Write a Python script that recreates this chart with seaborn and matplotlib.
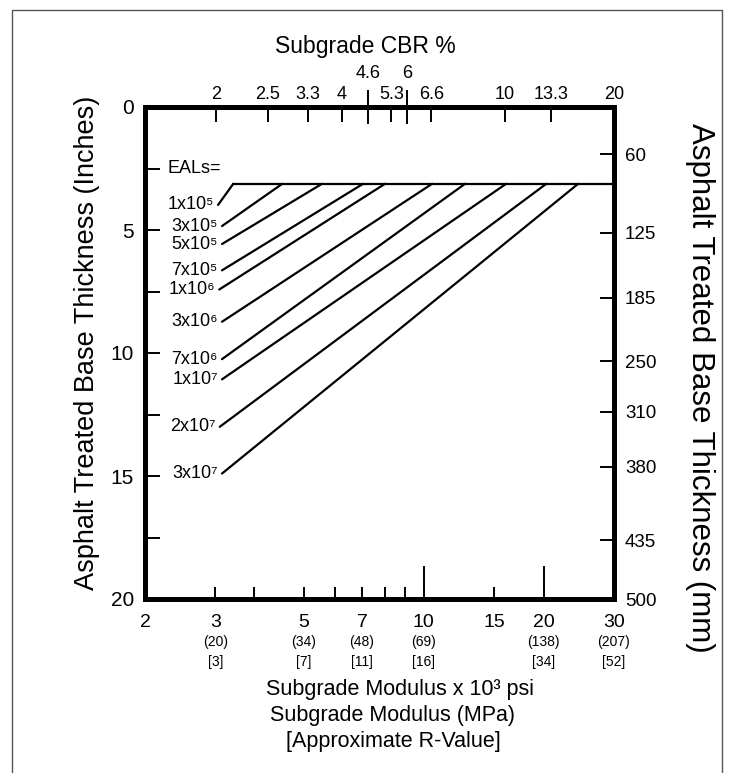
import numpy as np
import pandas as pd
import matplotlib
matplotlib.use("Agg")
import matplotlib.pyplot as plt
import seaborn as sns
from matplotlib.patches import Rectangle
from matplotlib.ticker import NullLocator, FixedLocator

# ---------------- data ----------------
eal_labels = ["1x10⁵", "3x10⁵", "5x10⁵", "7x10⁵", "1x10⁶",
              "3x10⁶", "7x10⁶", "1x10⁷", "2x10⁷", "3x10⁷"]
start_modulus = [3.05, 3.12, 3.12, 3.12, 3.07, 3.12, 3.12, 3.12, 3.08, 3.12]
start_thickness = [3.98, 4.84, 5.57, 6.64, 7.42, 8.73, 10.25, 11.07, 13.0, 14.9]
end_modulus = [3.33, 4.42, 5.56, 7.05, 8.0, 10.5, 12.7, 16.1, 20.3, 24.4]
cap_thickness = 3.12
cap_modulus = [3.33, 30.0]

# bottom axis (modulus x 10^3 psi)
mod_tick_pos = [3, 3.75, 5, 6, 7, 8, 9, 10, 15, 20]
mod_long_ticks = [10, 20]
mod_label_pos = [2, 3, 5, 7, 10, 15, 20, 30]
mod_labels = ["2", "3", "5", "7", "10", "15", "20", "30"]
mpa_pos = [3, 5, 7, 10, 20, 30]
mpa_labels = ["(20)", "(34)", "(48)", "(69)", "(138)", "(207)"]
rval_labels = ["[3]", "[7]", "[11]", "[16]", "[34]", "[52]"]

# top axis (CBR %)
cbr_pos = [3.01, 4.07, 5.13, 6.24, 8.29, 10.45, 16.0, 20.8, 30.0]
cbr_labels = ["2", "2.5", "3.3", "4", "5.3", "6.6", "10", "13.3", "20"]
cbr_raised_pos = [7.26, 9.09]
cbr_raised_labels = ["4.6", "6"]

# left axis (inches)
in_ticks = [0, 2.5, 5, 7.5, 10, 12.5, 15, 17.5, 20]
in_labels = ["0", "", "5", "", "10", "", "15", "", "20"]

# right axis (mm)
mm_pos = [1.93, 5.12, 7.75, 10.33, 12.38, 14.63, 17.62, 20.0]
mm_labels = ["60", "125", "185", "250", "310", "380", "435", "500"]

# ---------------- build long-form table ----------------
rows = []
for lab, x0, y0, x1 in zip(eal_labels, start_modulus, start_thickness, end_modulus):
    rows.append({"curve": lab, "order": 0, "modulus": x0, "thickness": y0})
    rows.append({"curve": lab, "order": 1, "modulus": x1, "thickness": cap_thickness})
for i, xm in enumerate(cap_modulus):
    rows.append({"curve": "cap", "order": i, "modulus": xm, "thickness": cap_thickness})
df = pd.DataFrame(rows)

# ---------------- style ----------------
sns.set_theme(style="white")
plt.rcParams["font.family"] = ["Liberation Sans", "DejaVu Sans"]
plt.rcParams.update({
    "text.color": "black", "axes.labelcolor": "black",
    "xtick.color": "black", "ytick.color": "black",
    "axes.edgecolor": "black",
})

fig = plt.figure(figsize=(7.32, 7.73), dpi=100)
ax = fig.add_axes([145 / 732, 1 - 599 / 773, (614 - 145) / 732, (599 - 107) / 773])

sns.lineplot(data=df, x="modulus", y="thickness", units="curve", estimator=None,
             sort=False, color="black", linewidth=1.6, ax=ax, legend=False)

ax.set_xscale("log")
ax.set_xlim(2, 30)
ax.set_ylim(20, 0)
ax.set_xlabel("")
ax.set_ylabel("")

for s in ax.spines.values():
    s.set_linewidth(3.6)
    s.set_color("black")
    s.set_visible(True)

# left axis
ax.set_yticks(in_ticks)
ax.set_yticklabels(in_labels)
ax.yaxis.set_minor_locator(NullLocator())
ax.tick_params(axis="y", which="major", direction="in", length=11, width=1.4,
               labelsize=15, pad=8, left=True, right=False)

# bottom short ticks
ax.xaxis.set_major_locator(FixedLocator(mod_tick_pos))
ax.xaxis.set_minor_locator(NullLocator())
ax.set_xticklabels([""] * len(mod_tick_pos))
ax.tick_params(axis="x", which="major", direction="in", length=9, width=1.4,
               bottom=True, top=False)


def hide_spines(a):
    for s in a.spines.values():
        s.set_visible(False)


# bottom long ticks
sec_long = ax.secondary_xaxis("bottom")
sec_long.set_xticks(mod_long_ticks)
sec_long.set_xticklabels(["", ""])
sec_long.xaxis.set_minor_locator(NullLocator())
sec_long.tick_params(direction="in", length=24, width=1.4)
hide_spines(sec_long)

# bottom label rows
sec_b1 = ax.secondary_xaxis("bottom")
sec_b1.set_xticks(mod_label_pos)
sec_b1.set_xticklabels(mod_labels)
sec_b1.xaxis.set_minor_locator(NullLocator())
sec_b1.tick_params(length=0, labelsize=14, pad=11)
hide_spines(sec_b1)

sec_b2 = ax.secondary_xaxis("bottom")
sec_b2.set_xticks(mpa_pos)
sec_b2.set_xticklabels(mpa_labels)
sec_b2.xaxis.set_minor_locator(NullLocator())
sec_b2.tick_params(length=0, labelsize=10, pad=26)
hide_spines(sec_b2)

sec_b3 = ax.secondary_xaxis("bottom")
sec_b3.set_xticks(mpa_pos)
sec_b3.set_xticklabels(rval_labels)
sec_b3.xaxis.set_minor_locator(NullLocator())
sec_b3.tick_params(length=0, labelsize=10, pad=40)
hide_spines(sec_b3)

# top CBR axis
sec_t = ax.secondary_xaxis("top")
sec_t.set_xticks(cbr_pos)
sec_t.set_xticklabels(cbr_labels)
sec_t.xaxis.set_minor_locator(NullLocator())
sec_t.tick_params(direction="in", length=11, width=1.4, labelsize=13, pad=3)
hide_spines(sec_t)

sec_t2 = ax.secondary_xaxis("top")
sec_t2.set_xticks(cbr_raised_pos)
sec_t2.set_xticklabels(cbr_raised_labels)
sec_t2.xaxis.set_minor_locator(NullLocator())
sec_t2.tick_params(direction="inout", length=24, width=1.4, labelsize=13, pad=6)
hide_spines(sec_t2)

# right mm axis
sec_r = ax.secondary_yaxis("right")
sec_r.set_yticks(mm_pos)
sec_r.set_yticklabels(mm_labels)
sec_r.yaxis.set_minor_locator(NullLocator())
sec_r.tick_params(direction="in", length=10, width=1.4, labelsize=13.5, pad=8)
hide_spines(sec_r)

# EAL labels
ax.text(2.28, 2.5, "EALs=", fontsize=13, ha="left", va="center")
for lab, x0, y0 in zip(eal_labels, start_modulus, start_thickness):
    ax.annotate(lab, xy=(x0, y0), xytext=(-3, 0), textcoords="offset points",
                ha="right", va="center", fontsize=13)

# titles / axis captions
fig.text(365 / 732, 1 - 47 / 773, "Subgrade CBR %", fontsize=16.5,
         ha="center", va="center")
fig.text(87 / 732, 1 - 343 / 773, "Asphalt Treated Base Thickness (Inches)",
         fontsize=19.5, rotation=90, ha="center", va="center")
fig.text(700 / 732, 1 - 388 / 773, "Asphalt Treated Base Thickness (mm)",
         fontsize=22.5, rotation=-90, ha="center", va="center")
fig.text(400 / 732, 1 - 690 / 773, "Subgrade Modulus x 10³ psi", fontsize=15.5,
         ha="center", va="center")
fig.text(393 / 732, 1 - 716 / 773, "Subgrade Modulus (MPa)", fontsize=15.5,
         ha="center", va="center")
fig.text(393 / 732, 1 - 742 / 773, "[Approximate R-Value]", fontsize=15.5,
         ha="center", va="center")

# outer frame
fig.patches.append(Rectangle((12 / 732, -0.05), (722 - 12) / 732, 1.05 - 10 / 773,
                             transform=fig.transFigure, fill=False,
                             edgecolor="#555555", linewidth=1.0))

fig.savefig("out.png", dpi=100)
